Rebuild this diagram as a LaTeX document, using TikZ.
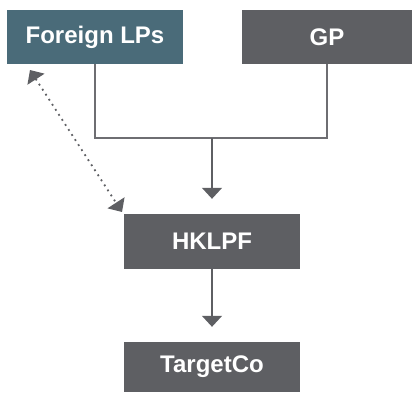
\documentclass[tikz,border=0pt]{standalone}
\usepackage{fontspec}
\setmainfont{Liberation Sans}
\usepackage{xcolor}
\usepackage{tikz}
\usetikzlibrary{positioning,calc,arrows.meta}

\definecolor{tealbox}{HTML}{4A6B79}
\definecolor{greybox}{HTML}{5E5F63}
\definecolor{wire}{HTML}{6E6E72}

\begin{document}
\begin{tikzpicture}[x=1pt, y=-1pt,
    entity/.style={fill=greybox, text=white, font=\fontsize{24}{28}\selectfont\bfseries,
                   minimum width=176pt, minimum height=54pt, inner sep=0pt},
    link/.style={wire, line width=1.4pt},
    tip/.style={-{Triangle[width=20pt,length=11pt]}, greybox}]
  \useasboundingbox (0,0) rectangle (412,392);

  % Top row
  \node[entity, fill=tealbox] (flp) at (95, 37) {Foreign LPs};
  \node[entity, minimum width=170pt] (gp) at (327, 37) {GP};

  % Middle and bottom
  \node[entity, minimum height=55pt] (hk) at (212, 241.5) {HKLPF};
  \node[entity, minimum height=50pt] (tco) at (212, 367) {TargetCo};

  % Joining lines
  \coordinate (join) at (212, 138);
  \draw[link] (flp.south) |- (join) -| (gp.south);
  \draw[link, tip, shorten >=15pt] (join) -- (hk.north);
  \draw[link, tip, shorten >=15pt] (hk.south) -- (tco.north);

  % Dotted relation
  \coordinate (dA) at (30, 70);
  \coordinate (dB) at (122, 212);
  \draw[greybox, line width=1.8pt, dash pattern=on 1.8pt off 4.2pt,
        {Triangle[width=20pt,length=11pt]}-{Triangle[width=20pt,length=11pt]}] (dA) -- (dB);
\end{tikzpicture}
\end{document}
